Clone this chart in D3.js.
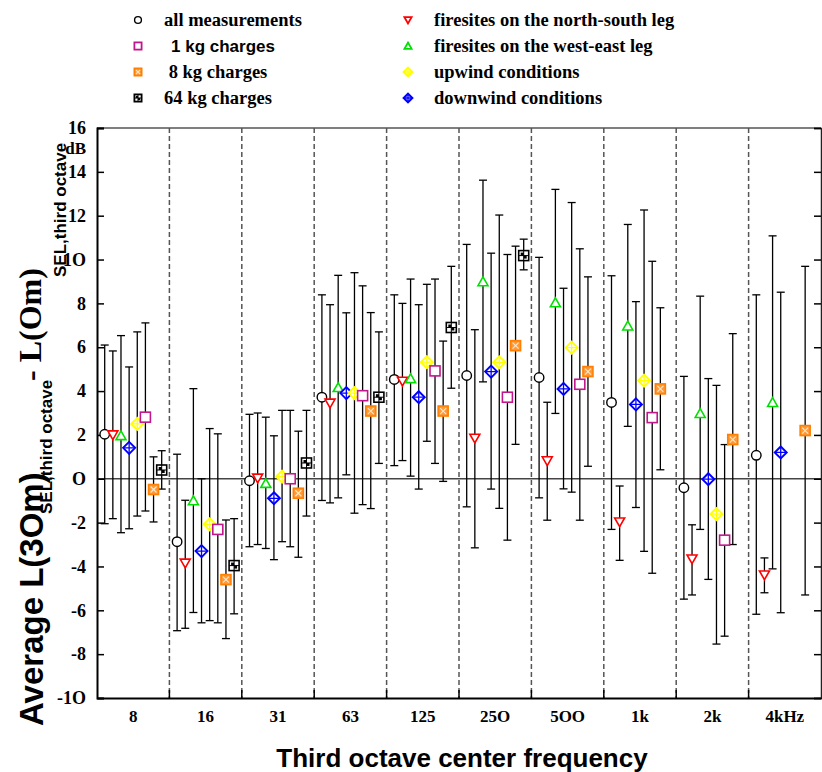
<!DOCTYPE html>
<html>
<head>
<meta charset="utf-8">
<script src="https://cdn.jsdelivr.net/npm/d3@7"></script>
<style>
  body { margin: 0; background: #fff; }
  svg { display: block; }
</style>
</head>
<body>
<svg id="chart" width="822" height="772"></svg>
<script>
'use strict';

// categories (band labels as printed, letter O kept)
const categories = ["8", "16", "31", "63", "125", "25O", "5OO", "1k", "2k", "4kHz"];

const yTickValues = [-10, -8, -6, -4, -2, 0, 2, 4, 6, 8, 10, 12, 14, 16];
const yTickLabels = ["-1O", "-8", "-6", "-4", "-2", "O", "2", "4", "6", "8", "1O", "12", "14", "16"];

// series order inside a band
const seriesKeys = ["all", "ns", "we", "down", "up", "kg1", "kg8", "kg64"];

// mean, upper and lower end of the bar per category (null = not measured)
const allMean  = [2.03, -2.87, -0.09, 3.72, 4.53, 4.71, 4.62, 3.48, -0.41, 1.07];
const allHi    = [6.1, 1.12, 2.94, 8.39, 8.39, 10.69, 10.1, 9.26, 4.67, 8.39];
const allLo    = [-2.05, -6.93, -3.1, -0.99, 0.6, -1.28, -0.87, -2.31, -5.49, -6.18];

const nsMean   = [2.0, -3.85, 0.03, 3.45, 4.45, 1.85, 0.82, -1.97, -3.66, -4.39];
const nsHi     = [5.83, -0.98, 3.0, 7.94, 8.0, 6.8, 3.49, -0.33, -2.1, -3.61];
const nsLo     = [-1.82, -6.82, -3.0, -1.1, 0.83, -3.15, -1.89, -3.72, -5.3, -5.2];

const weMean   = [1.97, -1.0, -0.21, 4.16, 4.57, 8.99, 8.03, 6.97, 2.98, 3.48];
const weHi     = [6.53, 4.11, 2.81, 9.28, 9.11, 13.62, 13.2, 11.6, 8.33, 11.08];
const weLo     = [-2.46, -6.1, -3.18, -0.87, 0.12, 4.42, 2.98, 2.39, -2.31, -4.11];

const downMean = [1.41, -3.3, -0.89, 3.91, 3.72, 4.89, 4.1, 3.39, -0.02, 1.2];
const downHi   = [5.1, 0.0, 1.96, 7.57, 7.94, 10.29, 8.69, 8.08, 4.57, 8.51];
const downLo   = [-2.28, -6.57, -3.69, 0.18, -0.47, -0.47, -0.46, -1.31, -4.59, -6.11];

const upMean   = [2.5, -2.08, 0.1, 3.91, 5.32, 5.31, 5.98, 4.48, -1.61, null];
const upHi     = [6.7, 2.29, 3.12, 9.4, 8.87, 12.03, 12.6, 12.26, 4.26, null];
const upLo     = [-1.7, -6.47, -2.87, -1.57, 1.71, -1.35, -0.61, -3.31, -7.54, null];

const kg1Mean  = [2.81, -2.31, 0.0, 3.79, 4.92, 3.72, 4.31, 2.79, -2.8, null];
const kg1Hi    = [7.11, 2.05, 3.12, 8.8, 9.11, 10.23, 10.49, 9.92, 1.56, null];
const kg1Lo    = [-1.47, -6.57, -3.1, -1.18, 0.7, -2.8, -1.89, -4.31, -7.18, null];

const kg8Mean  = [-0.49, -4.6, -0.66, 3.09, 3.09, 6.07, 4.89, 4.1, 1.79, 2.2];
const kg8Hi    = [1.0, -1.88, 2.17, 7.58, 6.28, 10.61, 9.21, 7.8, 6.62, 9.69];
const kg8Lo    = [-1.97, -7.29, -3.58, -1.36, -0.12, 1.57, 0.57, 0.41, -3.0, -5.3];

const kg64Mean = [0.4, -3.96, 0.72, 3.72, 6.9, 10.18, null, null, null, null];
const kg64Hi   = [1.28, -1.82, 3.12, 6.7, 9.69, 10.93, null, null, null, null];
const kg64Lo   = [-0.47, -6.16, -1.7, 0.7, 4.13, 9.53, null, null, null, null];

const seriesData = {
  all: [allMean, allHi, allLo],
  ns: [nsMean, nsHi, nsLo],
  we: [weMean, weHi, weLo],
  down: [downMean, downHi, downLo],
  up: [upMean, upHi, upLo],
  kg1: [kg1Mean, kg1Hi, kg1Lo],
  kg8: [kg8Mean, kg8Hi, kg8Lo],
  kg64: [kg64Mean, kg64Hi, kg64Lo]
};

const legendLeft = [
  { key: "all", label: "all measurements" },
  { key: "kg1", label: "1 kg charges", sans: true },
  { key: "kg8", label: " 8 kg charges" },
  { key: "kg64", label: "64 kg charges" }
];
const legendRight = [
  { key: "ns", label: "firesites on the north-south leg" },
  { key: "we", label: "firesites on the west-east leg" },
  { key: "up", label: "upwind conditions" },
  { key: "down", label: "downwind conditions" }
];

const serif = "'Liberation Serif', 'Times New Roman', serif";
const sans = "'Liberation Sans', Arial, sans-serif";

const svg = d3.select("#chart");

const plotL = 97, plotR = 821, plotT = 128, plotB = 698;

const x = d3.scaleBand().domain(categories).range([plotL, plotR]).padding(0);
const inner = d3.scalePoint().domain(seriesKeys).range([-28.5, 28.5]);
const y = d3.scaleLinear().domain([-10, 16]).range([plotB, plotT]);

// marker drawing, s = half size
function drawMarker(g, key, s) {
  const lw = s > 4 ? 1.6 : 1.8;
  if (key === "all") {
    g.append("circle").attr("r", s * 0.95).attr("fill", "#fff")
      .attr("stroke", "#000").attr("stroke-width", 1.4);
  } else if (key === "ns" || key === "we") {
    const col = key === "ns" ? "#ff0000" : "#00e000";
    const d = key === "ns"
      ? `M${-s},${-s * 0.8}L${s},${-s * 0.8}L0,${s * 0.95}Z`
      : `M${-s},${s * 0.8}L${s},${s * 0.8}L0,${-s * 0.95}Z`;
    g.append("path").attr("d", d).attr("fill", "#fff")
      .attr("stroke", col).attr("stroke-width", lw);
  } else if (key === "up" || key === "down") {
    const col = key === "up" ? "#ffff00" : "#0000ff";
    const r = s * 1.2;
    g.append("path").attr("d", `M0,${-r}L${r},0L0,${r}L${-r},0Z`)
      .attr("fill", "#fff").attr("stroke", col).attr("stroke-width", lw + 0.3);
    g.append("path").attr("d", `M${-r},0H${r}M0,${-r}V${r}`)
      .attr("stroke", col).attr("stroke-width", 1.3);
  } else if (key === "kg1") {
    g.append("rect").attr("x", -s).attr("y", -s).attr("width", 2 * s).attr("height", 2 * s)
      .attr("fill", "#fff").attr("stroke", "#c0188c").attr("stroke-width", lw);
  } else if (key === "kg8") {
    g.append("rect").attr("x", -s).attr("y", -s).attr("width", 2 * s).attr("height", 2 * s)
      .attr("fill", "#ff9a3a").attr("stroke", "#ff8000").attr("stroke-width", lw);
    g.append("path").attr("d", `M${-s * 0.6},${-s * 0.6}L${s * 0.6},${s * 0.6}M${s * 0.6},${-s * 0.6}L${-s * 0.6},${s * 0.6}`)
      .attr("stroke", "#ffe8c8").attr("stroke-width", 1.1);
  } else if (key === "kg64") {
    g.append("rect").attr("x", -s).attr("y", -s).attr("width", 2 * s).attr("height", 2 * s)
      .attr("fill", "#fff").attr("stroke", "#000").attr("stroke-width", lw);
    g.append("rect").attr("x", -s * 0.6).attr("y", -s * 0.6).attr("width", s * 0.6).attr("height", s * 0.6)
      .attr("fill", "#000");
    g.append("rect").attr("x", 0).attr("y", 0).attr("width", s * 0.6).attr("height", s * 0.6)
      .attr("fill", "#000");
    g.append("path").attr("d", `M${-s},0H${s}M0,${-s}V${s}`)
      .attr("stroke", "#000").attr("stroke-width", 1);
  }
}

// dashed separators between bands
const sepPos = categories.slice(1).map(c => x(c));
svg.append("g").selectAll("line")
  .data(sepPos).enter().append("line")
  .attr("x1", d => d).attr("x2", d => d)
  .attr("y1", plotT).attr("y2", plotB)
  .attr("stroke", "#555").attr("stroke-width", 1.5)
  .attr("stroke-dasharray", "5,3");

// zero line
svg.append("line")
  .attr("x1", plotL).attr("x2", plotR)
  .attr("y1", y(0)).attr("y2", y(0))
  .attr("stroke", "#444").attr("stroke-width", 1.6);

// frame top / right
svg.append("line").attr("x1", plotL).attr("x2", plotR).attr("y1", plotT).attr("y2", plotT)
  .attr("stroke", "#555").attr("stroke-width", 1.5);

const rightAxis = svg.append("g")
  .attr("transform", `translate(${plotR},0)`)
  .call(d3.axisLeft(y).tickValues(yTickValues).tickSize(7).tickFormat(""));
rightAxis.select(".domain").attr("stroke", "#222").attr("stroke-width", 1.5);
rightAxis.selectAll(".tick line").attr("stroke", "#000").attr("stroke-width", 1.5);

// left axis
const yAxis = svg.append("g")
  .attr("transform", `translate(${plotL},0)`)
  .call(d3.axisLeft(y).tickValues(yTickValues).tickSize(-7).tickPadding(11)
    .tickFormat((d, i) => yTickLabels[i]));
yAxis.select(".domain").attr("stroke", "#000").attr("stroke-width", 2);
yAxis.selectAll(".tick line").attr("stroke", "#000").attr("stroke-width", 1.5);
yAxis.selectAll(".tick text")
  .attr("font-family", serif).attr("font-weight", "bold")
  .attr("font-size", 18).attr("fill", "#000");

svg.append("text")
  .attr("x", 86).attr("y", y(16) + 26)
  .attr("text-anchor", "end")
  .attr("font-family", serif).attr("font-weight", "bold").attr("font-size", 17)
  .text("dB");

// bottom axis
const xAxis = svg.append("g")
  .attr("transform", `translate(0,${plotB})`)
  .call(d3.axisBottom(x).tickSize(0).tickPadding(12));
xAxis.select(".domain").attr("stroke", "#000").attr("stroke-width", 2);
xAxis.selectAll(".tick text")
  .attr("font-family", serif).attr("font-weight", "bold")
  .attr("font-size", 17).attr("fill", "#000");

svg.append("g").selectAll("line")
  .data(sepPos).enter().append("line")
  .attr("x1", d => d).attr("x2", d => d)
  .attr("y1", plotB).attr("y2", plotB - 8)
  .attr("stroke", "#000").attr("stroke-width", 1.5);

// error bars and markers
const points = [];
seriesKeys.forEach(key => {
  const [m, hi, lo] = seriesData[key];
  categories.forEach((c, i) => {
    if (m[i] === null) return;
    points.push({ key, cat: c, v: m[i], hi: hi[i], lo: lo[i] });
  });
});

const px = d => x(d.cat) + x.bandwidth() / 2 + inner(d.key);

const bars = svg.append("g").selectAll("g")
  .data(points).enter().append("g")
  .attr("stroke", "#000").attr("stroke-width", 1.3);
bars.append("line")
  .attr("x1", px).attr("x2", px)
  .attr("y1", d => y(d.hi)).attr("y2", d => y(d.lo));
bars.append("line")
  .attr("x1", d => px(d) - 4).attr("x2", d => px(d) + 4)
  .attr("y1", d => y(d.hi)).attr("y2", d => y(d.hi));
bars.append("line")
  .attr("x1", d => px(d) - 4).attr("x2", d => px(d) + 4)
  .attr("y1", d => y(d.lo)).attr("y2", d => y(d.lo));

svg.append("g").selectAll("g")
  .data(points).enter().append("g")
  .attr("transform", d => `translate(${px(d)},${y(d.v)})`)
  .each(function(d) { drawMarker(d3.select(this), d.key, 5); });

// legend
function legendColumn(items, sx, tx) {
  const rowY = d3.scalePoint().domain(d3.range(items.length)).range([20, 98]);
  items.forEach((it, i) => {
    const g = svg.append("g").attr("transform", `translate(${sx},${rowY(i)})`);
    drawMarker(g, it.key, 3.6);
    svg.append("text")
      .attr("x", it.sans ? tx + 7 : tx).attr("y", rowY(i) + 6)
      .attr("font-family", it.sans ? sans : serif)
      .attr("font-weight", "bold")
      .attr("font-size", it.sans ? 17 : 18.5)
      .attr("xml:space", "preserve")
      .text(it.label);
  });
}
legendColumn(legendLeft, 138, 164);
legendColumn(legendRight, 408, 434);

// axis titles
svg.append("text")
  .attr("x", 462).attr("y", 767)
  .attr("text-anchor", "middle")
  .attr("font-family", sans).attr("font-weight", "bold").attr("font-size", 26)
  .text("Third octave center frequency");

const yTitle = [
  { t: "Average L(3Om)", f: sans, s: 33, x: 43, y: 726 },
  { t: "SEL,third octave", f: sans, s: 17, x: 52, y: 514 },
  { t: "- L(Om)", f: serif, s: 32, x: 41, y: 381 },
  { t: "SEL,third octave", f: sans, s: 17, x: 66, y: 277 }
];
yTitle.forEach(p => {
  svg.append("text")
    .attr("transform", `translate(${p.x},${p.y}) rotate(-90)`)
    .attr("font-family", p.f).attr("font-weight", "bold").attr("font-size", p.s)
    .attr("xml:space", "preserve")
    .text(p.t);
});
</script>
</body>
</html>
